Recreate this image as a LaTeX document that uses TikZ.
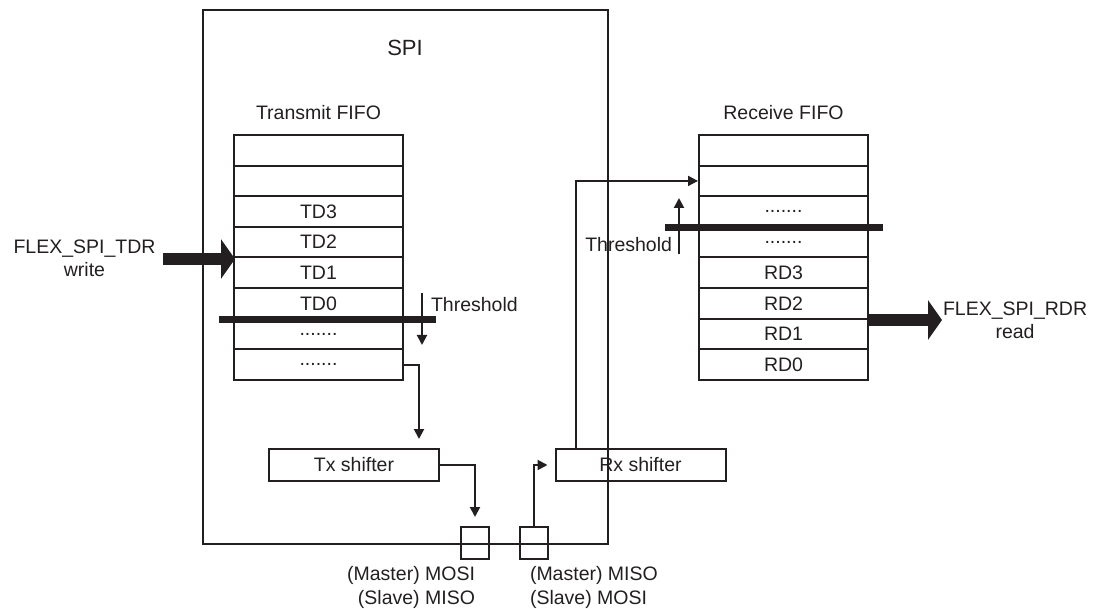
\documentclass[tikz,border=0pt]{standalone}
\usepackage{fontspec}
\setmainfont{Liberation Sans}
\usetikzlibrary{arrows.meta}
\newcommand\rowdots{.......}
\definecolor{ink}{RGB}{35,31,32}
\begin{document}
\begin{tikzpicture}[x=1pt,y=-1pt,line width=2pt,draw=ink,color=ink,
  every node/.style={font=\fontsize{19.5}{23}\selectfont, inner sep=0pt, text=ink},
  fiforow/.style={draw, minimum width=169pt, minimum height=30.625pt},
  shifter/.style={draw, minimum width=170pt, minimum height=32pt},
  pinbox/.style={draw, minimum width=28pt, minimum height=32pt},
  sig/.style={-{Triangle[length=10pt,width=10pt]}},
  fat/.style={line width=12pt,-{Triangle[length=14pt,width=39pt]}},
  bar/.style={line width=7pt}]
\useasboundingbox (0,0) rectangle (1095,609);
% outer SPI block
\draw (203,10) rectangle (608,544);
\node (spi) at (405,48) {\fontsize{22}{26}\selectfont SPI};
% Transmit FIFO
\node (tfl) at (318.5,113) {Transmit FIFO};
\foreach \i/\t in {1/,2/,3/TD3,4/TD2,5/TD1,6/TD0,7/\rowdots,8/\rowdots}
  \node[fiforow] (t\i) at (318.5,{135+30.625*(\i-0.5)}) {\t};
% Receive FIFO
\node (rfl) at (783.5,113) {Receive FIFO};
\foreach \i/\t in {1/,2/,3/\rowdots,4/\rowdots,5/RD3,6/RD2,7/RD1,8/RD0}
  \node[fiforow] (r\i) at (783.5,{135+30.625*(\i-0.5)}) {\t};
% threshold bars
\draw[bar] (219,320) -- (436,320);
\draw[bar] (665,228) -- (883,228);
\coordinate (tth1) at (422,293);
\coordinate (tth2) at (422,345);
\draw[sig] (tth1) -- (tth2);
\node[anchor=base west] (tthl) at (430,312) {Threshold};
\coordinate (rth1) at (679,254);
\coordinate (rth2) at (679,198);
\draw[sig] (rth1) -- (rth2);
\node[anchor=base east] (rthl) at (673,252) {Threshold};
% shifters
\node[shifter] (txs) at (354,465) {Tx shifter};
\node[shifter] (rxs) at (640.5,465) {Rx shifter};
% pins
\node[pinbox] (p1) at (475,543) {};
\node[pinbox] (p2) at (534,543) {};
\node[anchor=base east] (p1l) at (476,580) {(Master) MOSI};
\node[anchor=base east] (p1m) at (476,604) {(Slave) MISO};
\node[anchor=base west] (p2l) at (529,580) {(Master) MISO};
\node[anchor=base west] (p2m) at (529,604) {(Slave) MOSI};
% connectors
\draw[sig, shorten >=9pt] (t8.east) -- ++(15,0) coordinate (tc) -- (tc |- txs.north);
\draw[sig, shorten >=9pt] (txs.east) -| (p1.north);
\draw[sig, shorten >=7pt] (p2.north) |- (rxs.west);
\draw[sig] ([xshift=21pt]rxs.north west) |- (r2.west);
% external thick arrows
\node[align=center] (tdr) at (84.5,258) {FLEX\_SPI\_TDR\\write};
\coordinate (tdrtip) at (235,259);
\draw[fat] (163,259) -- (tdrtip);
\node[align=center, anchor=west] (rdr) at (942,320) {FLEX\_SPI\_RDR\\read};
\coordinate (rdrs) at (869,320);
\draw[fat] (rdrs) -- (rdr.west);
\end{tikzpicture}
\end{document}
